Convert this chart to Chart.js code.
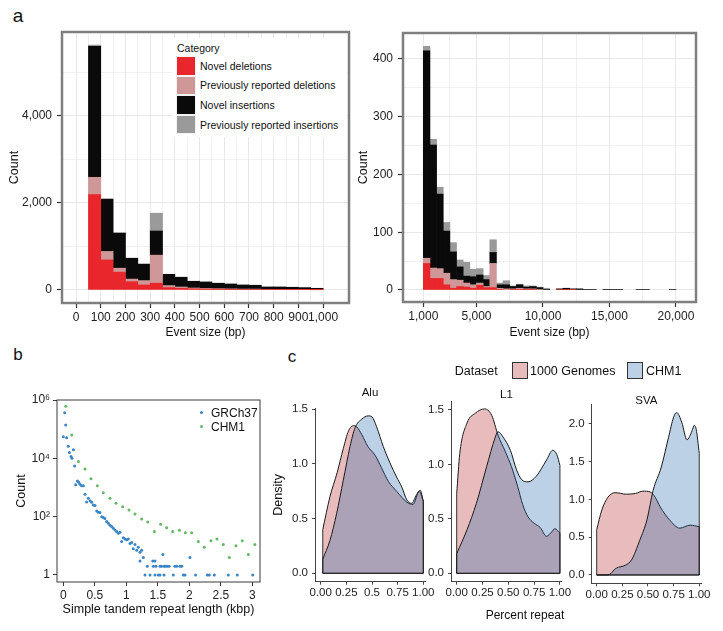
<!DOCTYPE html>
<html>
<head>
<meta charset="utf-8">
<script src="https://cdn.jsdelivr.net/npm/chart.js@4.4.0/dist/chart.umd.min.js"></script>
<style>
    body { margin: 0; background: #fff; }
    #page { position: relative; width: 723px; height: 631px; overflow: hidden; font-family: "Liberation Sans", Arial, sans-serif; color: #111; }
    canvas { position: absolute; }
    .txt { position: absolute; white-space: nowrap; line-height: 1; }
    .mid { transform: translateY(-50%); }
    .ctr { transform: translate(-50%, -50%); }
    .key { position: absolute; box-sizing: border-box; }
</style>
</head>
<body>
<div id="page">
    <div class="txt ctr" style="left:18px;top:15px;font-size:19px">a</div>
    <div class="txt ctr" style="left:18px;top:354px;font-size:17px">b</div>
    <div class="txt ctr" style="left:292px;top:356px;font-size:17px">c</div>

    <canvas id="histSmall" width="352" height="320" style="left:0;top:25px"></canvas>
    <canvas id="histLarge" width="371" height="320" style="left:352px;top:25px"></canvas>
    <div id="categoryLegend" style="position:absolute;left:173px;top:38px;width:174px;height:99px;background:#fff"></div>

    <canvas id="strChart" width="268" height="246" style="left:0;top:385px"></canvas>
    <div id="strLegend"></div>

    <canvas id="aluChart" width="172" height="251" style="left:265px;top:380px"></canvas>
    <canvas id="l1Chart" width="160" height="251" style="left:418px;top:380px"></canvas>
    <canvas id="svaChart" width="167" height="251" style="left:556px;top:380px"></canvas>
    <div id="datasetLegend"></div>
    <div class="txt ctr" style="left:525px;top:615px;font-size:12px">Percent repeat</div>
</div>

<script>
// =============================
// DATA
// =============================

const categoryNames = ['Novel deletions', 'Previously reported deletions', 'Novel insertions', 'Previously reported insertions'];

// panel a, left: 50 bp bins from 50 to 1000
const smallBinStarts = [50, 100, 150, 200, 250, 300, 350, 400, 450, 500, 550, 600, 650, 700, 750, 800, 850, 900, 950];
const smallNovelDel = [2190, 690, 410, 190, 115, 155, 55, 38, 25, 20, 18, 15, 13, 12, 10, 9, 8, 7, 5];
const smallPrevDel = [400, 195, 90, 60, 100, 645, 45, 30, 20, 15, 12, 10, 8, 8, 5, 5, 4, 3, 2];
const smallNovelIns = [3010, 1205, 810, 480, 380, 555, 260, 225, 155, 150, 125, 113, 94, 88, 54, 55, 50, 44, 31];
const smallPrevIns = [30, 0, 0, 0, 0, 410, 0, 0, 0, 0, 0, 0, 0, 0, 0, 0, 0, 0, 0];
const smallXTicks = [0, 100, 200, 300, 400, 500, 600, 700, 800, 900, 1000];
const smallYTicks = [0, 2000, 4000];

// panel a, right: 500 bp bins from 1,000 to 20,000
const largeBinStarts = [1000, 1500, 2000, 2500, 3000, 3500, 4000, 4500, 5000, 5500,
    6000, 6500, 7000, 7500, 8000, 8500, 9000, 9500, 10000, 10500,
    11000, 11500, 12000, 12500, 13000, 13500, 14000, 14500, 15000, 15500,
    16000, 16500, 17000, 17500, 18000, 18500, 19000, 19500];
const largeNovelDel = [46, 20, 20, 9, 3, 6, 5, 3, 8, 4, 4, 1, 0, 1, 1, 1, 1, 0, 0, 0,
    1, 1, 1, 0, 0, 0, 0, 0, 0, 0, 0, 0, 0, 0, 0, 0, 0, 0];
const largePrevDel = [9, 18, 17, 20, 15, 11, 7, 6, 4, 2, 42, 2, 2, 1, 2, 1, 1, 1, 0, 0,
    0, 0, 0, 0, 0, 0, 0, 0, 0, 0, 0, 0, 0, 0, 0, 0, 0, 0];
const largeNovelIns = [359, 213, 129, 73, 48, 23, 12, 14, 14, 12, 19, 6, 7, 4, 6, 3, 4, 3, 1, 0,
    1, 2, 1, 2, 1, 1, 0, 1, 1, 1, 0, 0, 1, 1, 0, 0, 0, 1];
const largePrevIns = [8, 10, 12, 15, 16, 12, 24, 13, 11, 7, 22, 3, 7, 1, 1, 2, 1, 1, 2, 0,
    0, 0, 0, 0, 0, 0, 0, 0, 0, 0, 0, 0, 0, 0, 0, 0, 0, 0];
const largeXTicks = [1000, 5000, 10000, 15000, 20000];
const largeYTicks = [0, 100, 200, 300, 400];

// panel b: simple tandem repeat length (kbp) and counts
const grchLength = [0.0, 0.022, 0.038, 0.053, 0.08, 0.096, 0.122, 0.138, 0.16, 0.18,
    0.196, 0.223, 0.244, 0.265, 0.29, 0.318, 0.344, 0.37, 0.397, 0.424,
    0.45, 0.476, 0.503, 0.53, 0.556, 0.582, 0.61, 0.635, 0.66, 0.688,
    0.715, 0.741, 0.768, 0.794, 0.82, 0.847, 0.873, 0.9, 0.926, 0.953,
    0.979, 1.006, 1.032, 1.059, 1.085, 1.11, 1.138, 1.165, 1.19, 1.217,
    1.244, 1.217, 1.27, 1.297, 1.333, 1.376, 1.42, 1.43, 1.455, 1.455,
    1.47, 1.508, 1.535, 1.535, 1.56, 1.58, 1.598, 1.6, 1.625, 1.65,
    1.68, 1.746, 1.77, 1.8, 1.85, 1.88, 1.905, 1.932, 2.01, 2.1,
    2.286, 2.317, 2.397, 2.619, 2.762, 3.006];
const grchCount = [55000, 367000, 138000, 51000, 26000, 16000, 11500, 10000, 19500, 5500,
    1230, 1660, 1510, 1290, 1150, 1150, 590, 320, 430, 350,
    310, 250, 240, 155, 141, 138, 100, 93, 87, 68,
    59, 51, 46, 40, 35, 31, 27, 29, 14, 19,
    17, 16, 17, 12, 13, 8, 11, 7, 9, 6,
    7, 3, 4, 1, 2, 1, 3, 2, 3, 1,
    2, 1, 1, 2, 2, 5, 1, 2, 2, 2,
    2, 1, 2, 2, 2, 2, 1, 1, 4, 1,
    1, 1, 1, 1, 1, 1];
const chmLength = [0.038, 0.133, 0.239, 0.344, 0.44, 0.54, 0.635, 0.741, 0.837, 0.942,
    1.043, 1.138, 1.244, 1.34, 1.445, 1.545, 1.64, 1.736, 1.842, 1.937,
    2.037, 2.143, 2.238, 2.344, 2.44, 2.54, 2.635, 2.74, 2.84, 2.937, 3.04];
const chmCount = [616000, 63000, 7800, 4300, 2000, 1150, 660, 430, 290, 220,
    170, 123, 83, 65, 31, 55, 42, 31, 34, 28,
    28, 14, 9, 15, 17, 11, 4, 10, 15, 5, 11];
const strXTicks = [0, 0.5, 1, 1.5, 2, 2.5, 3];
const strYTicks = [1, 100, 10000, 1000000];
const strYLabels = ['1', '10²', '10⁴', '10⁶'];

// panel c: densities of percent repeat
const datasetNames = ['1000 Genomes', 'CHM1'];
const aluGenomesX = [0.02, 0.09, 0.16, 0.22, 0.27, 0.32, 0.35, 0.40, 0.46, 0.53, 0.59, 0.66, 0.74, 0.84, 0.90, 0.96, 1.0];
const aluGenomesY = [0.40, 0.70, 0.92, 1.14, 1.30, 1.35, 1.34, 1.27, 1.16, 1.08, 0.97, 0.84, 0.75, 0.65, 0.63, 0.75, 0.66];
const aluChmX = [0.02, 0.09, 0.156, 0.22, 0.286, 0.334, 0.40, 0.464, 0.50, 0.545, 0.61, 0.675, 0.74, 0.79, 0.84, 0.886, 0.935, 0.97, 1.0];
const aluChmY = [0.13, 0.30, 0.55, 0.85, 1.16, 1.33, 1.41, 1.44, 1.43, 1.34, 1.16, 1.01, 0.88, 0.79, 0.67, 0.64, 0.72, 0.76, 0.66];
const l1GenomesX = [0.0, 0.03, 0.10, 0.18, 0.27, 0.34, 0.40, 0.47, 0.53, 0.59, 0.64, 0.69, 0.75, 0.81, 0.87, 0.92, 0.95, 1.0];
const l1GenomesY = [0.73, 1.10, 1.38, 1.47, 1.51, 1.45, 1.27, 1.12, 0.98, 0.80, 0.63, 0.52, 0.46, 0.42, 0.34, 0.38, 0.41, 0.37];
const l1ChmX = [0.0, 0.10, 0.19, 0.29, 0.37, 0.40, 0.45, 0.52, 0.58, 0.63, 0.69, 0.77, 0.87, 0.93, 0.97, 1.0];
const l1ChmY = [0.18, 0.40, 0.64, 0.98, 1.24, 1.30, 1.25, 1.13, 0.95, 0.86, 0.84, 0.89, 1.04, 1.13, 1.09, 0.99];
const svaGenomesX = [0.0, 0.05, 0.11, 0.18, 0.29, 0.38, 0.45, 0.52, 0.57, 0.62, 0.71, 0.81, 0.91, 1.0];
const svaGenomesY = [0.60, 0.86, 1.03, 1.09, 1.07, 1.08, 1.11, 1.10, 1.03, 0.90, 0.73, 0.62, 0.66, 0.64];
const svaChmX = [0.0, 0.11, 0.19, 0.28, 0.34, 0.42, 0.49, 0.55, 0.63, 0.70, 0.75, 0.78, 0.83, 0.88, 0.93, 0.95, 0.97, 1.0];
const svaChmY = [0.0, 0.0, 0.09, 0.13, 0.20, 0.46, 0.73, 1.12, 1.43, 1.82, 2.09, 2.15, 2.02, 1.79, 1.91, 1.98, 1.93, 1.61];
const densityXTicks = [0, 0.25, 0.5, 0.75, 1];
const aluXLabels = ['0.00', '0.25', '0.5', '0.75', '1.00'];
const densityXLabels = ['0.00', '0.25', '0.50', '0.75', '1.00'];
const densityYTicks = [0, 0.5, 1.0, 1.5];
const svaYTicks = [0, 0.5, 1.0, 1.5, 2.0];


// =============================
// STYLE + HELPERS
// =============================

const categoryColors = ['#e8262b', '#cf9797', '#0a0a0a', '#9a9a9a'];
const strColors = ['#3a85c6', '#62b865'];
const densityFills = ['rgba(178,34,34,0.3)', 'rgba(33,102,172,0.3)'];

Chart.defaults.font.family = '"Liberation Sans", Arial, sans-serif';
Chart.defaults.color = '#222';

// forces the size of an axis so that the plot area lands where it should
function fixSize(size) {
    return function (scale) {
        if (scale.isHorizontal()) {
            scale.height = size;
        } else {
            scale.width = size;
        }
        scale.paddingLeft = 0;
        scale.paddingRight = 0;
        scale.paddingTop = 0;
        scale.paddingBottom = 0;
    };
}

function fixTicks(values) {
    return function (scale) {
        scale.ticks = values.map(v => ({ value: v }));
    };
}

// midpoints between major ticks, used as minor grid lines
function midpoints(values) {
    const res = [];
    for (let i = 1; i < values.length; i++) {
        res.push((values[i - 1] + values[i]) / 2);
    }
    return res;
}

function toPoints(xs, ys) {
    return xs.map((x, i) => ({ x: x, y: ys[i] }));
}

const framePlugin = {
    id: 'frame',
    afterDraw(chart, args, opts) {
        const { ctx, chartArea: a } = chart;
        ctx.save();
        ctx.strokeStyle = opts.color;
        ctx.lineWidth = opts.width;
        ctx.strokeRect(a.left, a.top, a.right - a.left, a.bottom - a.top);
        ctx.restore();
    }
};

// closes the density outline: vertical ends and the zero baseline
const edgesPlugin = {
    id: 'edges',
    afterDatasetsDraw(chart) {
        const { ctx, scales: { x, y } } = chart;
        const y0 = y.getPixelForValue(0);
        ctx.save();
        ctx.strokeStyle = '#1a1a1a';
        ctx.lineWidth = 0.9;
        chart.data.datasets.forEach(ds => {
            const first = ds.data[0];
            const last = ds.data[ds.data.length - 1];
            ctx.beginPath();
            ctx.moveTo(x.getPixelForValue(first.x), y.getPixelForValue(first.y));
            ctx.lineTo(x.getPixelForValue(first.x), y0);
            ctx.lineTo(x.getPixelForValue(last.x), y0);
            ctx.lineTo(x.getPixelForValue(last.x), y.getPixelForValue(last.y));
            ctx.stroke();
        });
        ctx.restore();
    }
};

const baseOptions = {
    responsive: false,
    animation: false,
    devicePixelRatio: 1,
    events: []
};


// =============================
// PANEL a: EVENT SIZE HISTOGRAMS
// =============================

function histogramChart(canvasId, cfg) {
    const xAll = cfg.xMajors.concat(cfg.xMinors).sort((a, b) => a - b);
    const yAll = cfg.yMajors.concat(cfg.yMinors).sort((a, b) => a - b);
    const isMajorX = c => c.tick && cfg.xMajors.includes(c.tick.value);
    const isMajorY = c => c.tick && cfg.yMajors.includes(c.tick.value);

    new Chart(document.getElementById(canvasId), {
        type: 'bar',
        data: {
            datasets: cfg.series.map((vals, i) => ({
                label: categoryNames[i],
                // empty bins are left out, otherwise they show up as a thin line
                data: vals
                    .map((v, j) => ({ x: cfg.binStarts[j] + cfg.binWidth / 2, y: v }))
                    .filter(p => p.y > 0),
                backgroundColor: categoryColors[i],
                borderWidth: 0,
                barPercentage: 1,
                categoryPercentage: 1
            }))
        },
        options: {
            ...baseOptions,
            layout: { padding: cfg.padding },
            plugins: {
                legend: { display: false },
                tooltip: { enabled: false },
                frame: { color: '#7f7f7f', width: 2.5 }
            },
            scales: {
                x: {
                    type: 'linear',
                    min: cfg.xMin,
                    max: cfg.xMax,
                    offset: false,
                    stacked: true,
                    afterBuildTicks: fixTicks(xAll),
                    afterFit: fixSize(cfg.xHeight),
                    ticks: {
                        autoSkip: false,
                        maxRotation: 0,
                        padding: 2,
                        font: { size: 12 },
                        callback: v => cfg.xMajors.includes(v) ? v.toLocaleString('en-US') : ''
                    },
                    grid: {
                        offset: false,
                        color: '#e8e8e8',
                        lineWidth: c => isMajorX(c) ? 1 : 0.6,
                        tickLength: 5,
                        tickWidth: 1.2,
                        tickColor: c => isMajorX(c) ? '#333' : 'rgba(0,0,0,0)'
                    },
                    border: { display: false },
                    title: {
                        display: true,
                        text: 'Event size (bp)',
                        color: '#111',
                        font: { size: 12 },
                        padding: { top: 0, bottom: 4.8 }
                    }
                },
                y: {
                    type: 'linear',
                    min: cfg.yMin,
                    max: cfg.yMax,
                    stacked: true,
                    afterBuildTicks: fixTicks(yAll),
                    afterFit: fixSize(cfg.yWidth),
                    ticks: {
                        autoSkip: false,
                        padding: 5,
                        font: { size: 12 },
                        callback: v => cfg.yMajors.includes(v) ? v.toLocaleString('en-US') : ''
                    },
                    grid: {
                        color: '#e8e8e8',
                        lineWidth: c => isMajorY(c) ? 1 : 0.6,
                        tickLength: 5,
                        tickWidth: 1.2,
                        tickColor: c => isMajorY(c) ? '#333' : 'rgba(0,0,0,0)'
                    },
                    border: { display: false },
                    title: {
                        display: true,
                        text: 'Count',
                        color: '#111',
                        font: { size: 12.5 },
                        padding: { top: cfg.yTitlePad, bottom: 0 }
                    }
                }
            }
        },
        plugins: [framePlugin]
    });
}

function buildCategoryLegend() {
    const box = document.getElementById('categoryLegend');
    let html = '<div class="txt mid" style="left:4px;top:10px;font-size:10.5px">Category</div>';
    categoryNames.forEach((name, i) => {
        const top = 18 + i * 19.6;
        html += `<div class="key" style="left:3px;top:${top}px;width:20px;height:19.6px;background:${categoryColors[i]};border:1px solid #f2f2f2"></div>`;
        html += `<div class="txt mid" style="left:27px;top:${top + 9.8}px;font-size:10.5px">${name}</div>`;
    });
    box.innerHTML = html;
}


// =============================
// PANEL b: SIMPLE TANDEM REPEATS
// =============================

function strChart() {
    new Chart(document.getElementById('strChart'), {
        type: 'scatter',
        data: {
            datasets: [
                {
                    label: 'GRCh37',
                    data: toPoints(grchLength, grchCount),
                    backgroundColor: strColors[0],
                    borderWidth: 0,
                    pointRadius: 1.5
                },
                {
                    label: 'CHM1',
                    data: toPoints(chmLength, chmCount),
                    backgroundColor: strColors[1],
                    borderWidth: 0,
                    pointRadius: 1.5
                }
            ]
        },
        options: {
            ...baseOptions,
            layout: { padding: { top: 15, right: 8 } },
            plugins: {
                legend: { display: false },
                tooltip: { enabled: false },
                frame: { color: '#3a3a3a', width: 1 }
            },
            scales: {
                x: {
                    type: 'linear',
                    min: -0.1,
                    max: 3.122,
                    afterBuildTicks: fixTicks(strXTicks),
                    afterFit: fixSize(49),
                    ticks: { autoSkip: false, maxRotation: 0, padding: 2, font: { size: 12 }, callback: v => String(v) },
                    grid: { drawOnChartArea: false, tickLength: 4, tickColor: '#3a3a3a' },
                    border: { display: false },
                    title: {
                        display: true,
                        text: 'Simple tandem repeat length (kbp)',
                        color: '#111',
                        font: { size: 12.5 },
                        padding: { top: 0, bottom: 14.2 }
                    }
                },
                y: {
                    type: 'logarithmic',
                    min: 0.575,
                    max: 1000000,
                    afterBuildTicks: fixTicks(strYTicks),
                    afterFit: fixSize(57),
                    ticks: { autoSkip: false, padding: 3, font: { size: 12 }, callback: v => strYLabels[strYTicks.indexOf(v)] },
                    grid: { drawOnChartArea: false, tickLength: 4, tickColor: '#3a3a3a' },
                    border: { display: false },
                    title: {
                        display: true,
                        text: 'Count',
                        color: '#111',
                        font: { size: 12.5 },
                        padding: { top: 14.2, bottom: 0 }
                    }
                }
            }
        },
        plugins: [framePlugin]
    });

    const legend = document.getElementById('strLegend');
    legend.innerHTML = ['GRCh37', 'CHM1'].map((name, i) => {
        const top = 412.5 + i * 14;
        return `<div class="key" style="left:200.2px;top:${top - 1.5}px;width:3px;height:3px;border-radius:50%;background:${strColors[i]}"></div>` +
            `<div class="txt mid" style="left:211px;top:${top}px;font-size:12px">${name}</div>`;
    }).join('');
}


// =============================
// PANEL c: PERCENT REPEAT DENSITIES
// =============================

function densityChart(canvasId, cfg) {
    const lineStyle = {
        borderColor: '#1a1a1a',
        borderWidth: 1,
        pointRadius: 0,
        fill: 'origin',
        cubicInterpolationMode: 'monotone'
    };

    new Chart(document.getElementById(canvasId), {
        type: 'line',
        data: {
            datasets: [
                { ...lineStyle, label: datasetNames[0], data: toPoints(cfg.genomesX, cfg.genomesY), backgroundColor: densityFills[0], order: 1 },
                { ...lineStyle, label: datasetNames[1], data: toPoints(cfg.chmX, cfg.chmY), backgroundColor: densityFills[1], order: 0 }
            ]
        },
        options: {
            ...baseOptions,
            layout: { padding: { right: cfg.padRight } },
            plugins: {
                legend: { display: false },
                tooltip: { enabled: false },
                title: {
                    display: true,
                    text: cfg.title,
                    fullSize: false,
                    color: '#111',
                    font: { size: 11.5, weight: 'normal' },
                    padding: cfg.titlePad
                }
            },
            scales: {
                x: {
                    type: 'linear',
                    min: cfg.xMin,
                    max: cfg.xMax,
                    afterBuildTicks: fixTicks(densityXTicks),
                    afterFit: fixSize(cfg.xHeight),
                    ticks: {
                        autoSkip: false,
                        maxRotation: 0,
                        padding: 1.5,
                        font: { size: 11.5 },
                        callback: v => cfg.xLabels[densityXTicks.indexOf(v)]
                    },
                    grid: { drawOnChartArea: false, tickLength: 3, tickColor: '#444' },
                    border: { display: true, color: '#444', width: 1 }
                },
                y: {
                    type: 'linear',
                    min: cfg.yMin,
                    max: cfg.yMax,
                    afterBuildTicks: fixTicks(cfg.yTicks),
                    afterFit: fixSize(cfg.yWidth),
                    ticks: {
                        autoSkip: false,
                        padding: 4,
                        font: { size: 11.5 },
                        callback: v => v.toFixed(1)
                    },
                    grid: { drawOnChartArea: false, tickLength: 3, tickColor: '#444' },
                    border: { display: true, color: '#444', width: 1 },
                    title: {
                        display: cfg.yTitle !== '',
                        text: cfg.yTitle,
                        color: '#111',
                        font: { size: 12.5 },
                        padding: { top: 5.8, bottom: 0 }
                    }
                }
            }
        },
        plugins: [edgesPlugin]
    });
}

function buildDatasetLegend() {
    const legend = document.getElementById('datasetLegend');
    legend.innerHTML =
        '<div class="txt mid" style="left:454.7px;top:370.7px;font-size:12.5px">Dataset</div>' +
        `<div class="key" style="left:511.7px;top:362px;width:16.6px;height:17.4px;background:${densityFills[0]};border:1px solid #333"></div>` +
        `<div class="txt mid" style="left:530px;top:370.7px;font-size:12.5px">${datasetNames[0]}</div>` +
        `<div class="key" style="left:626.7px;top:362px;width:16.6px;height:17.4px;background:${densityFills[1]};border:1px solid #333"></div>` +
        `<div class="txt mid" style="left:646px;top:370.7px;font-size:12.5px">${datasetNames[1]}</div>`;
}


// =============================
// START
// =============================

document.addEventListener('DOMContentLoaded', () => {
    histogramChart('histSmall', {
        binStarts: smallBinStarts,
        binWidth: 50,
        series: [smallNovelDel, smallPrevDel, smallNovelIns, smallPrevIns],
        xMin: -57, xMax: 1105, yMin: -300, yMax: 5930,
        xMajors: smallXTicks, xMinors: midpoints(smallXTicks),
        yMajors: smallYTicks, yMinors: [1000, 3000, 5000],
        padding: { top: 7, right: 3 },
        xHeight: 42, yWidth: 62, yTitlePad: 6.8
    });
    histogramChart('histLarge', {
        binStarts: largeBinStarts,
        binWidth: 500,
        series: [largeNovelDel, largePrevDel, largeNovelIns, largePrevIns],
        xMin: -527, xMax: 21508, yMin: -20.8, yMax: 445,
        xMajors: largeXTicks, xMinors: [3000, 7500, 12500, 17500],
        yMajors: largeYTicks, yMinors: midpoints(largeYTicks),
        padding: { top: 8, right: 27 },
        xHeight: 43, yWidth: 51, yTitlePad: 3.8
    });
    buildCategoryLegend();

    strChart();

    densityChart('aluChart', {
        title: 'Alu', titlePad: { top: 6.4, bottom: 7.8 },
        genomesX: aluGenomesX, genomesY: aluGenomesY, chmX: aluChmX, chmY: aluChmY,
        xMin: -0.0556, xMax: 1.0166, yMin: -0.077, yMax: 1.512,
        xLabels: aluXLabels, yTicks: densityYTicks,
        yWidth: 50, xHeight: 49.3, padRight: 12, yTitle: 'Density'
    });
    densityChart('l1Chart', {
        title: 'L1', titlePad: { top: 8.1, bottom: -0.2 },
        genomesX: l1GenomesX, genomesY: l1GenomesY, chmX: l1ChmX, chmY: l1ChmY,
        xMin: -0.055, xMax: 1.018, yMin: -0.077, yMax: 1.576,
        xLabels: densityXLabels, yTicks: densityYTicks,
        yWidth: 33, xHeight: 49.3, padRight: 16.2, yTitle: ''
    });
    densityChart('svaChart', {
        title: 'SVA', titlePad: { top: 13.8, bottom: -3.6 },
        genomesX: svaGenomesX, genomesY: svaGenomesY, chmX: svaChmX, chmY: svaChmY,
        xMin: -0.0487, xMax: 1.017, yMin: -0.11, yMax: 2.264,
        xLabels: densityXLabels, yTicks: svaYTicks,
        yWidth: 35.7, xHeight: 47.7, padRight: 22, yTitle: ''
    });
    buildDatasetLegend();
});
</script>
</body>
</html>
